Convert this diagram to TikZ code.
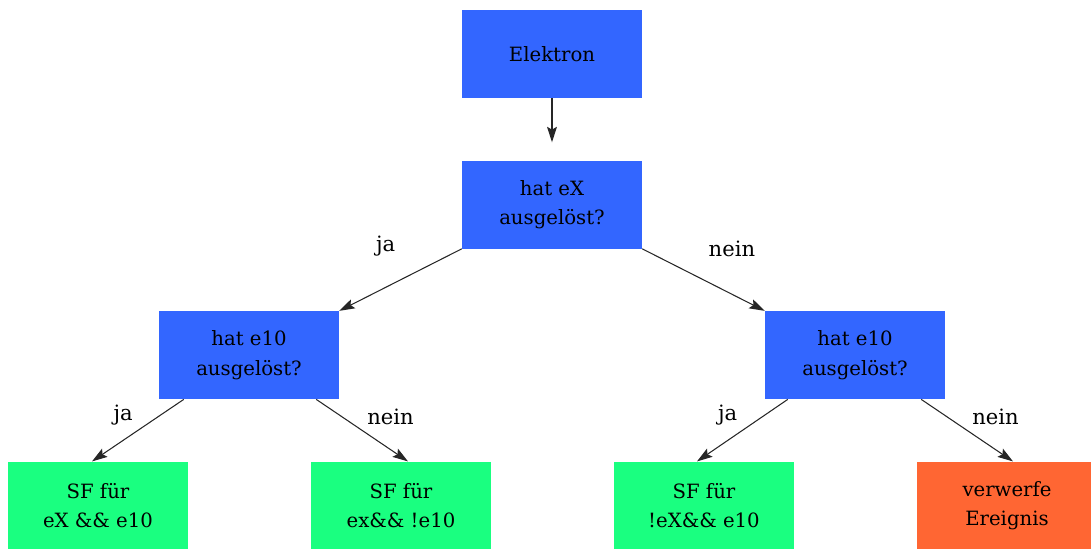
\documentclass[tikz,border=0pt]{standalone}
\usepackage{fontspec}
\setmainfont{DejaVu Serif}
\usetikzlibrary{positioning, arrows.meta}

\definecolor{askblue}{RGB}{51,102,255}
\definecolor{sfgreen}{RGB}{26,255,128}
\definecolor{droporange}{RGB}{255,102,51}

\begin{document}
\begin{tikzpicture}[
  node distance=1.55cm,
  box/.style={rectangle, minimum width=4.5cm, minimum height=2.2cm,
              font=\fontsize{14}{21}\selectfont, align=center},
  ask/.style={box, fill=askblue},
  sf/.style={box, fill=sfgreen},
  drop/.style={box, fill=droporange},
  arr/.style={-{Stealth[length=11pt, width=7pt, inset=2pt]}, line width=0.75pt, black!85},
  lbl/.style={text=black, font=\fontsize{15}{17}\selectfont}
]
  \useasboundingbox (-13.8,1.35) rectangle (13.475,-12.35);

  \node[ask] (elek) {Elektron};
  \node[ask, below=of elek] (ex) {hat eX\\ausgelöst?};
  \node[ask, below=of ex, xshift=-7.575cm] (e10l) {hat e10\\ausgelöst?};
  \node[ask, below=of ex, xshift=7.575cm] (e10r) {hat e10\\ausgelöst?};
  \node[sf, below=of e10l, xshift=-3.775cm] (sfa) {SF für\\eX \&\& e10};
  \node[sf, below=of e10l, xshift=3.8cm] (sfb) {SF für\\ex\&\& !e10};
  \node[sf, below=of e10r, xshift=-3.775cm] (sfc) {SF für\\!eX\&\& e10};
  \node[drop, below=of e10r, xshift=3.8cm] (verw) {verwerfe\\Ereignis};

  \draw[arr, shorten >=0.45cm] (elek) -- (ex);
  \draw[arr] (ex.south west) -- node[lbl, above left, yshift=0.45cm]{ja} (e10l.north east);
  \draw[arr] (ex.south east) -- node[lbl, above right, yshift=0.45cm]{nein} (e10r.north west);

  \draw[arr] ([xshift=0.625cm]e10l.south west) -- node[lbl, above left]{ja} ([xshift=-0.15cm]sfa.north);
  \draw[arr] ([xshift=-0.575cm]e10l.south east) -- node[lbl, above right]{nein} ([xshift=0.175cm]sfb.north);
  \draw[arr] ([xshift=0.575cm]e10r.south west) -- node[lbl, above left]{ja} ([xshift=-0.175cm]sfc.north);
  \draw[arr] ([xshift=-0.6cm]e10r.south east) -- node[lbl, above right]{nein} ([xshift=0.15cm]verw.north);
\end{tikzpicture}
\end{document}
